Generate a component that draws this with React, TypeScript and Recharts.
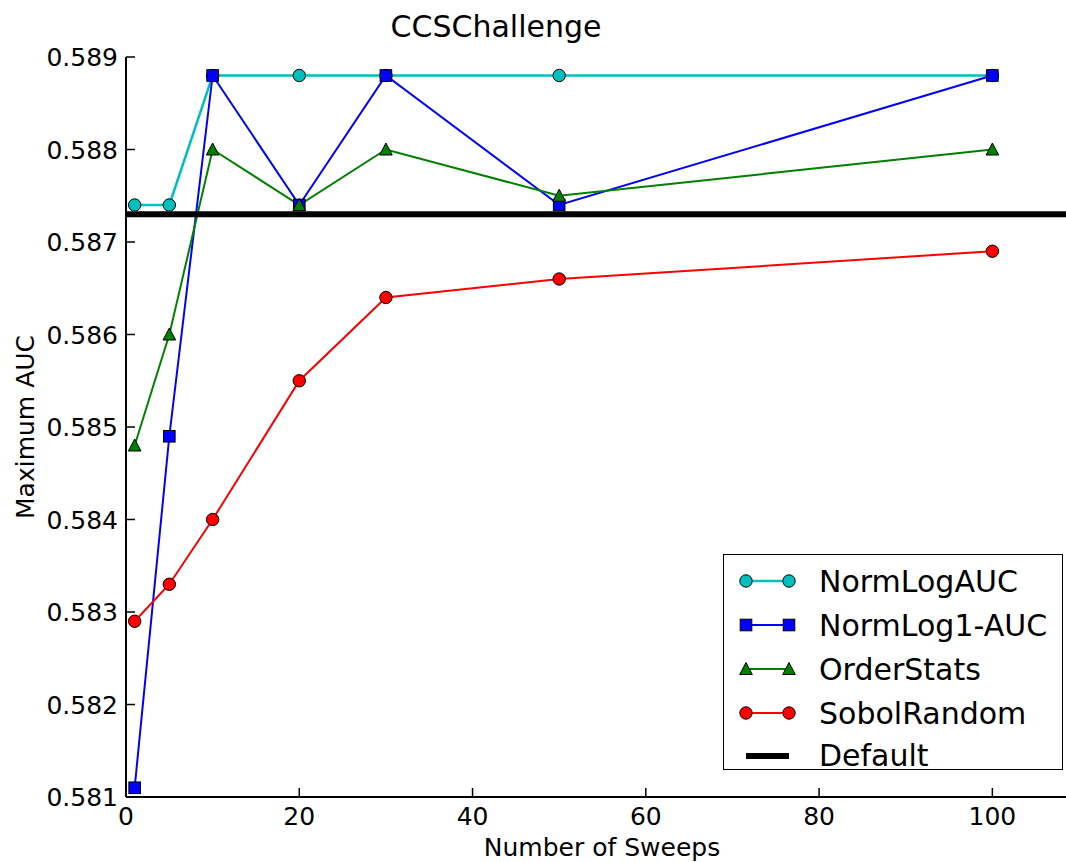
import React from 'react';
import { LineChart, Line, XAxis, YAxis, ReferenceLine, Legend } from 'recharts';

const sweeps = [1, 5, 10, 20, 30, 50, 100];
const normLogAUC = [0.5874, 0.5874, 0.5888, 0.5888, 0.5888, 0.5888, 0.5888];
const normLog1AUC = [0.5811, 0.5849, 0.5888, 0.5874, 0.5888, 0.5874, 0.5888];
const orderStats = [0.5848, 0.586, 0.588, 0.5874, 0.588, 0.5875, 0.588];
const sobolRandom = [0.5829, 0.5833, 0.584, 0.5855, 0.5864, 0.5866, 0.5869];
const defaultAUC = 0.5873;

const xTicks = [0, 20, 40, 60, 80, 100];
const yTicks = [0.581, 0.582, 0.583, 0.584, 0.585, 0.586, 0.587, 0.588, 0.589];

const FONT = '"DejaVu Sans", sans-serif';

type Marker = 'circle' | 'square' | 'triangle';
const series: { key: string; name: string; color: string; marker: Marker; width: number }[] = [
  { key: 'normLogAUC', name: 'NormLogAUC', color: '#00BFBF', marker: 'circle', width: 2.5 },
  { key: 'normLog1AUC', name: 'NormLog1-AUC', color: '#0000FF', marker: 'square', width: 2 },
  { key: 'orderStats', name: 'OrderStats', color: '#008000', marker: 'triangle', width: 2 },
  { key: 'sobolRandom', name: 'SobolRandom', color: '#FF0000', marker: 'circle', width: 2 },
];

const data = sweeps.map((s, i) => ({
  sweeps: s,
  normLogAUC: normLogAUC[i],
  normLog1AUC: normLog1AUC[i],
  orderStats: orderStats[i],
  sobolRandom: sobolRandom[i],
}));

function drawMarker(marker: Marker, cx: number, cy: number, color: string, key?: any) {
  if (marker === 'circle') {
    return <circle key={key} cx={cx} cy={cy} r={6.2} fill={color} stroke="#000" strokeWidth={1} />;
  }
  if (marker === 'square') {
    return <rect key={key} x={cx - 5.8} y={cy - 5.8} width={11.6} height={11.6} fill={color} stroke="#000" strokeWidth={1} />;
  }
  return (
    <polygon
      key={key}
      points={`${cx},${cy - 6.5} ${cx - 6.3},${cy + 5.5} ${cx + 6.3},${cy + 5.5}`}
      fill={color}
      stroke="#000"
      strokeWidth={1}
    />
  );
}

const makeDot = (marker: Marker, color: string) => (props: any) => {
  const { cx, cy, index } = props;
  if (cx == null || cy == null) return <g key={index} />;
  return drawMarker(marker, cx, cy, color, index);
};

const BottomTick = (props: any) => {
  const { x, y, payload } = props;
  return (
    <g>
      <line x1={x} x2={x} y1={y} y2={y - 9} stroke="#000" strokeWidth={1.5} />
      <text x={x} y={y + 28} textAnchor="middle" fontSize={25} fontFamily={FONT} fill="#000">
        {payload.value}
      </text>
    </g>
  );
};

const TopTick = (props: any) => {
  const { x, y } = props;
  return <line x1={x} x2={x} y1={y} y2={y + 9} stroke="#000" strokeWidth={1.5} />;
};

const LeftTick = (props: any) => {
  const { x, y, payload } = props;
  return (
    <g>
      <line x1={x} x2={x + 9} y1={y} y2={y} stroke="#000" strokeWidth={1.5} />
      <text x={x - 8} y={y + 9} textAnchor="end" fontSize={25} fontFamily={FONT} fill="#000">
        {Number(payload.value).toFixed(3)}
      </text>
    </g>
  );
};

const rowY = [28, 72, 116, 160, 203];

const LegendBox = () => (
  <div
    style={{
      width: 340,
      height: 216,
      boxSizing: 'border-box',
      border: '1.6px solid #000',
      background: '#fff',
    }}
  >
    <svg width={338} height={214} overflow="visible" style={{ display: 'block', overflow: 'visible', marginLeft: -1.6, marginTop: -1.6 }}>
      {series.map((s, i) => (
        <g key={s.key}>
          <line x1={24} x2={67} y1={rowY[i]} y2={rowY[i]} stroke={s.color} strokeWidth={s.width} />
          {drawMarker(s.marker, 24, rowY[i], s.color)}
          {drawMarker(s.marker, 67, rowY[i], s.color)}
          <text x={97} y={rowY[i] + 11} fontSize={30} fontFamily={FONT} fill="#000">
            {s.name}
          </text>
        </g>
      ))}
      <line x1={24} x2={67} y1={rowY[4]} y2={rowY[4]} stroke="#000" strokeWidth={6} />
      <text x={97} y={rowY[4] + 10} fontSize={30} fontFamily={FONT} fill="#000">
        Default
      </text>
    </svg>
  </div>
);

export default function App() {
  return (
    <div
      style={{
        position: 'absolute',
        left: 0,
        top: 0,
        width: 1066,
        height: 862,
        overflow: 'hidden',
        background: '#fff',
      }}
    >
      <LineChart
        width={1110}
        height={862}
        data={data}
        margin={{ top: 57, right: 31, left: 0, bottom: 0 }}
      >
        <XAxis
          dataKey="sweeps"
          type="number"
          domain={[0, 110]}
          ticks={xTicks}
          allowDataOverflow
          height={65}
          tickSize={0}
          tickMargin={0}
          tickLine={false}
          axisLine={{ stroke: '#000', strokeWidth: 2 }}
          tick={<BottomTick />}
          interval={0}
        />
        <XAxis
          xAxisId="top"
          orientation="top"
          type="number"
          domain={[0, 110]}
          ticks={xTicks}
          allowDataOverflow
          height={0}
          tickSize={0}
          tickMargin={0}
          tickLine={false}
          axisLine={{ stroke: '#000', strokeWidth: 2 }}
          tick={<TopTick />}
          interval={0}
        />
        <YAxis
          type="number"
          domain={[0.581, 0.589]}
          ticks={yTicks}
          allowDataOverflow
          width={126}
          tickSize={0}
          tickMargin={0}
          tickLine={false}
          axisLine={{ stroke: '#000', strokeWidth: 2 }}
          tick={<LeftTick />}
          interval={0}
        />
        {series.map((s) => (
          <Line
            key={s.key}
            dataKey={s.key}
            name={s.name}
            stroke={s.color}
            strokeWidth={s.width}
            dot={makeDot(s.marker, s.color)}
            activeDot={false}
            isAnimationActive={false}
          />
        ))}
        <ReferenceLine y={defaultAUC} stroke="#000" strokeWidth={6} ifOverflow="extendDomain" />
        <Legend
          layout="vertical"
          align="center"
          verticalAlign="middle"
          content={<LegendBox />}
          wrapperStyle={{ position: 'absolute', left: 723, top: 554, width: 340, height: 216, bottom: 'auto', right: 'auto' }}
        />
      </LineChart>
      <svg
        width={1066}
        height={862}
        style={{ position: 'absolute', left: 0, top: 0, pointerEvents: 'none' }}
      >
        <text x={496} y={37} textAnchor="middle" fontSize={30} fontFamily={FONT} fill="#000">
          CCSChallenge
        </text>
        <text x={602} y={856} textAnchor="middle" fontSize={25} fontFamily={FONT} fill="#000">
          Number of Sweeps
        </text>
        <text
          x={0}
          y={0}
          transform="translate(34 427) rotate(-90)"
          textAnchor="middle"
          fontSize={25}
          fontFamily={FONT}
          fill="#000"
        >
          Maximum AUC
        </text>
      </svg>
    </div>
  );
}
